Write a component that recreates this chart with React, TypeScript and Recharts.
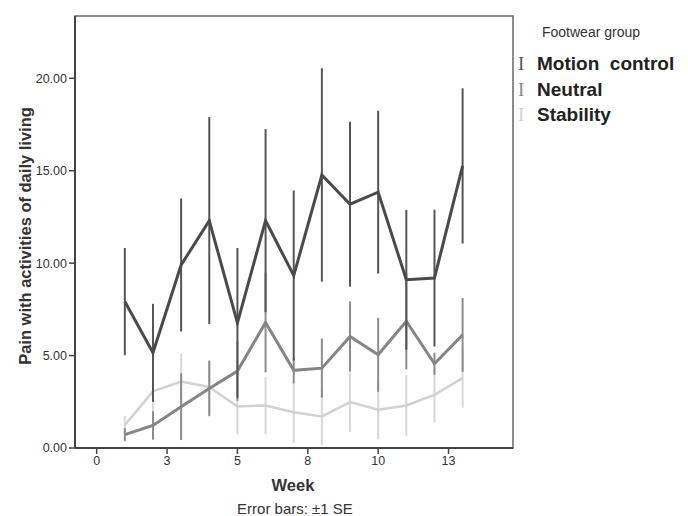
import React from 'react';
import { ComposedChart, Line, XAxis, YAxis, ErrorBar, ReferenceArea } from 'recharts';

// weeks 1..13, means and ±1 SE
const weeks = [1, 2, 3, 4, 5, 6, 7, 8, 9, 10, 11, 12, 13];
const motion = [7.92, 5.15, 9.9, 12.3, 6.77, 12.3, 9.33, 14.77, 13.19, 13.84, 9.1, 9.19, 15.26];
const motionSE = [2.9, 2.65, 3.6, 5.6, 4.05, 4.95, 4.6, 5.77, 4.46, 4.4, 3.78, 3.7, 4.2];
const neutral = [0.72, 1.22, 2.23, 3.22, 4.16, 6.79, 4.2, 4.32, 6.03, 5.04, 6.86, 4.56, 6.12];
const neutralSE = [0.35, 0.77, 1.8, 1.5, 1.6, 2.7, 0.7, 1.6, 1.9, 2.0, 2.6, 0.6, 2.0];
const stability = [1.24, 3.06, 3.6, 3.3, 2.25, 2.3, 1.93, 1.71, 2.48, 2.07, 2.3, 2.88, 3.78];
const stabilitySE = [0.5, 2.1, 1.5, 1.45, 1.5, 1.55, 1.65, 1.55, 1.6, 1.6, 1.66, 1.5, 1.6];

const xTicks = [0, 2.5, 5, 7.5, 10, 12.5];
const xTickLabels = ['0', '3', '5', '8', '10', '13'];
const yTicks = [0, 5, 10, 15, 20];

const X_DOMAIN: [number, number] = [-0.77, 14.79];
const Y_DOMAIN: [number, number] = [0, 23.37];

const COLORS = {
  motion: '#4a4a4a',
  neutral: '#858585',
  stability: '#d2d2d2',
};

const data = weeks.map((w, i) => ({
  week: w,
  motion: motion[i],
  motionErr: motionSE[i],
  neutral: neutral[i],
  neutralErr: neutralSE[i],
  stability: stability[i],
  stabilityErr: stabilitySE[i],
}));

const font = '"Liberation Sans", Arial, sans-serif';
const tickStyle = { fill: '#333', fontSize: 12.5, fontFamily: font };

const legendItems = [
  { label: 'Motion  control', color: '#555' },
  { label: 'Neutral', color: '#8a8a8a' },
  { label: 'Stability', color: '#d0d0d0' },
];

export default function App() {
  return (
    <div style={{ position: 'absolute', left: 0, top: 0, width: 688, height: 516, background: '#fff', fontFamily: font }}>
      <ComposedChart
        width={688}
        height={516}
        data={data}
        margin={{ top: 16, right: 175, bottom: 0, left: 0 }}
      >
        <XAxis
          dataKey="week"
          type="number"
          domain={X_DOMAIN}
          allowDataOverflow
          ticks={xTicks}
          tickFormatter={(v: number) => xTickLabels[xTicks.indexOf(v)] ?? String(v)}
          height={68}
          tick={tickStyle}
          tickSize={6}
          tickLine={{ stroke: '#444', strokeWidth: 1.5 }}
          axisLine={{ stroke: '#444', strokeWidth: 2 }}
        />
        <YAxis
          type="number"
          domain={Y_DOMAIN}
          allowDataOverflow
          ticks={yTicks}
          tickFormatter={(v: number) => v.toFixed(2)}
          width={75}
          tick={tickStyle}
          tickSize={6}
          tickLine={{ stroke: '#444', strokeWidth: 1.5 }}
          axisLine={{ stroke: '#444', strokeWidth: 2 }}
        />
        <ReferenceArea
          x1={X_DOMAIN[0]}
          x2={X_DOMAIN[1]}
          y1={Y_DOMAIN[0]}
          y2={Y_DOMAIN[1]}
          fill="none"
          stroke="#666"
          strokeWidth={1.5}
        />
        <Line
          dataKey="stability"
          stroke={COLORS.stability}
          strokeWidth={2.5}
          dot={false}
          isAnimationActive={false}
        >
          <ErrorBar dataKey="stabilityErr" width={0} stroke="#d8d8d8" strokeWidth={2} direction="y" />
        </Line>
        <Line
          dataKey="neutral"
          stroke={COLORS.neutral}
          strokeWidth={3}
          dot={false}
          isAnimationActive={false}
        >
          <ErrorBar dataKey="neutralErr" width={0} stroke="#8c8c8c" strokeWidth={2} direction="y" />
        </Line>
        <Line
          dataKey="motion"
          stroke={COLORS.motion}
          strokeWidth={3}
          dot={false}
          isAnimationActive={false}
        >
          <ErrorBar dataKey="motionErr" width={0} stroke="#555" strokeWidth={2} direction="y" />
        </Line>
      </ComposedChart>

      {/* axis titles */}
      <div
        style={{
          position: 'absolute',
          left: 25,
          top: 236,
          transform: 'translate(-50%, -50%) rotate(-90deg)',
          whiteSpace: 'nowrap',
          fontWeight: 'bold',
          fontSize: 16.5,
          color: '#333',
        }}
      >
        Pain with activities of daily living
      </div>
      <div style={{ position: 'absolute', left: 293, top: 485, transform: 'translate(-50%, -50%)', fontWeight: 'bold', fontSize: 16.5, color: '#333' }}>
        Week
      </div>
      <div style={{ position: 'absolute', left: 295, top: 508, transform: 'translate(-50%, -50%)', whiteSpace: 'nowrap', fontSize: 15, color: '#333' }}>
        Error bars: ±1 SE
      </div>

      {/* legend */}
      <div style={{ position: 'absolute', left: 542, top: 24, fontSize: 14, color: '#333', whiteSpace: 'nowrap' }}>
        Footwear group
      </div>
      {legendItems.map((item, i) => (
        <div
          key={item.label}
          style={{ position: 'absolute', left: 518, top: 53 + i * 25.5, height: 22, display: 'flex', alignItems: 'center', whiteSpace: 'pre' }}
        >
          <span style={{ fontFamily: '"Liberation Serif", serif', fontSize: 19, color: item.color, width: 19 }}>I</span>
          <span style={{ fontSize: 19, fontWeight: 'bold', color: '#222' }}>{item.label}</span>
        </div>
      ))}
    </div>
  );
}
